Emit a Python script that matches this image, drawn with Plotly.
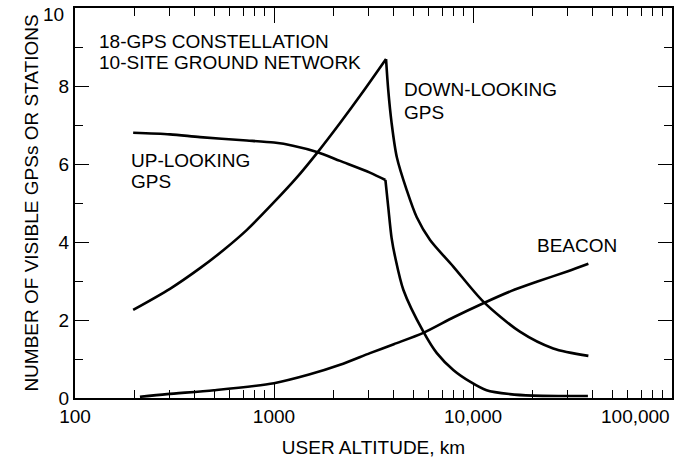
import plotly.graph_objects as go

# altitude (km) vs number visible
# up-looking GPS: slow decline, then a sharp drop after ~3600 km
up_alt_a = [196, 300, 425, 700, 1000, 1245, 1644, 2148, 3035, 3630]
up_val_a = [6.8, 6.76, 6.69, 6.61, 6.55, 6.47, 6.31, 6.08, 5.78, 5.59]
up_alt_b = [3630, 3750, 3900, 4060, 4470, 5630, 6580, 7960, 9660, 11700, 15300, 20000, 28000, 37800]
up_val_b = [5.59, 4.9, 4.1, 3.62, 2.77, 1.7, 1.15, 0.72, 0.42, 0.2, 0.1, 0.06, 0.05, 0.05]

# down-looking GPS: rises to a peak near 3650 km, then falls
down_alt_a = [196, 300, 425, 560, 731, 1000, 1300, 1644, 2148, 2800, 3656]
down_val_a = [2.26, 2.8, 3.33, 3.8, 4.31, 5.02, 5.65, 6.28, 7.05, 7.85, 8.69]
down_alt_b = [3656, 3750, 3900, 4140, 4645, 5210, 6085, 7960, 11270, 17200, 25300, 38000]
down_val_b = [8.69, 7.9, 7.05, 6.18, 5.33, 4.64, 4.05, 3.37, 2.47, 1.7, 1.27, 1.08]

beacon_alt = [212, 290, 500, 1000, 1500, 2148, 3035, 4000, 5630, 8000, 11270, 15500, 20900, 30000, 38000]
beacon_val = [0.03, 0.1, 0.2, 0.38, 0.6, 0.85, 1.15, 1.38, 1.67, 2.07, 2.43, 2.74, 2.98, 3.25, 3.44]

x_ticks = [100, 1000, 10000]
x_ticktext = ['100', '1000', '10,000']
x_minor = [m * d for d in [100, 1000, 10000] for m in range(2, 10)]
y_ticks = [0, 2, 4, 6, 8, 10]
y_ticktext = ['0', '2', '4', '6', '8', '']  # "10" added below, nudged down as in the original

font = 'Liberation Sans, Arial, sans-serif'
fsize = 19
line = dict(color='black', width=2.6, shape='spline', smoothing=0.8)

fig = go.Figure()
for xs, ys in [(up_alt_a, up_val_a), (up_alt_b, up_val_b),
               (down_alt_a, down_val_a), (down_alt_b, down_val_b),
               (beacon_alt, beacon_val)]:
    fig.add_trace(go.Scatter(x=xs, y=ys, mode='lines', line=line))

# log axis: annotation x given in log10 units
labels = [
    (2.11, 9.15, '18-GPS CONSTELLATION'),
    (2.11, 8.59, '10-SITE GROUND NETWORK'),
    (2.27, 6.10, 'UP-LOOKING'),
    (2.27, 5.54, 'GPS'),
    (3.645, 7.90, 'DOWN-LOOKING'),
    (3.645, 7.32, 'GPS'),
    (4.31, 3.92, 'BEACON'),
]
for x, y, t in labels:
    fig.add_annotation(x=x, y=y, text=t, showarrow=False, xanchor='left', yanchor='middle',
                       xref='x', yref='y', font=dict(size=fsize, color='black', family=font))

fig.add_annotation(x=1.0, y=0, xref='paper', yref='paper', text='100,000', showarrow=False,
                   xanchor='right', yanchor='top', yshift=-6,
                   font=dict(size=fsize, color='black', family=font))
fig.add_annotation(x=0, y=10, xref='paper', yref='y', text='10', showarrow=False,
                   xanchor='right', yanchor='middle', xshift=-9, yshift=-6,
                   font=dict(size=fsize, color='black', family=font))

fig.update_xaxes(type='log', range=[2, 5], tickvals=x_ticks, ticktext=x_ticktext,
                 ticks='inside', ticklen=15, tickwidth=1.2, tickcolor='black',
                 minor=dict(tickvals=x_minor, ticks='inside', ticklen=8, tickwidth=1.2, tickcolor='black'),
                 showline=True, linecolor='black', linewidth=2, mirror='ticks', showgrid=False,
                 zeroline=False, automargin=False, ticklabeloverflow='allow',
                 tickfont=dict(size=fsize, color='black', family=font),
                 title=dict(text='USER ALTITUDE, km', font=dict(size=fsize, color='black', family=font)))
fig.update_yaxes(range=[0, 10], tickvals=y_ticks, ticktext=y_ticktext,
                 ticks='inside', ticklen=14, tickwidth=1.2, tickcolor='black',
                 minor=dict(dtick=1, ticks='inside', ticklen=8, tickwidth=1.2, tickcolor='black'),
                 showline=True, linecolor='black', linewidth=2, mirror='ticks', showgrid=False,
                 zeroline=False, automargin=False, ticklabeloverflow='allow',
                 tickfont=dict(size=fsize, color='black', family=font),
                 title=dict(text='NUMBER OF VISIBLE GPSs OR STATIONS',
                            font=dict(size=fsize, color='black', family=font)))

fig.update_layout(width=678, height=459, margin=dict(l=75, r=6, t=8, b=61),
                  plot_bgcolor='white', paper_bgcolor='white', showlegend=False)

# the page's default 8px body margin would push the figure off the window
fig.write_html("out.html", config={'displayModeBar': False},
               post_script="document.body.style.margin='0';")
